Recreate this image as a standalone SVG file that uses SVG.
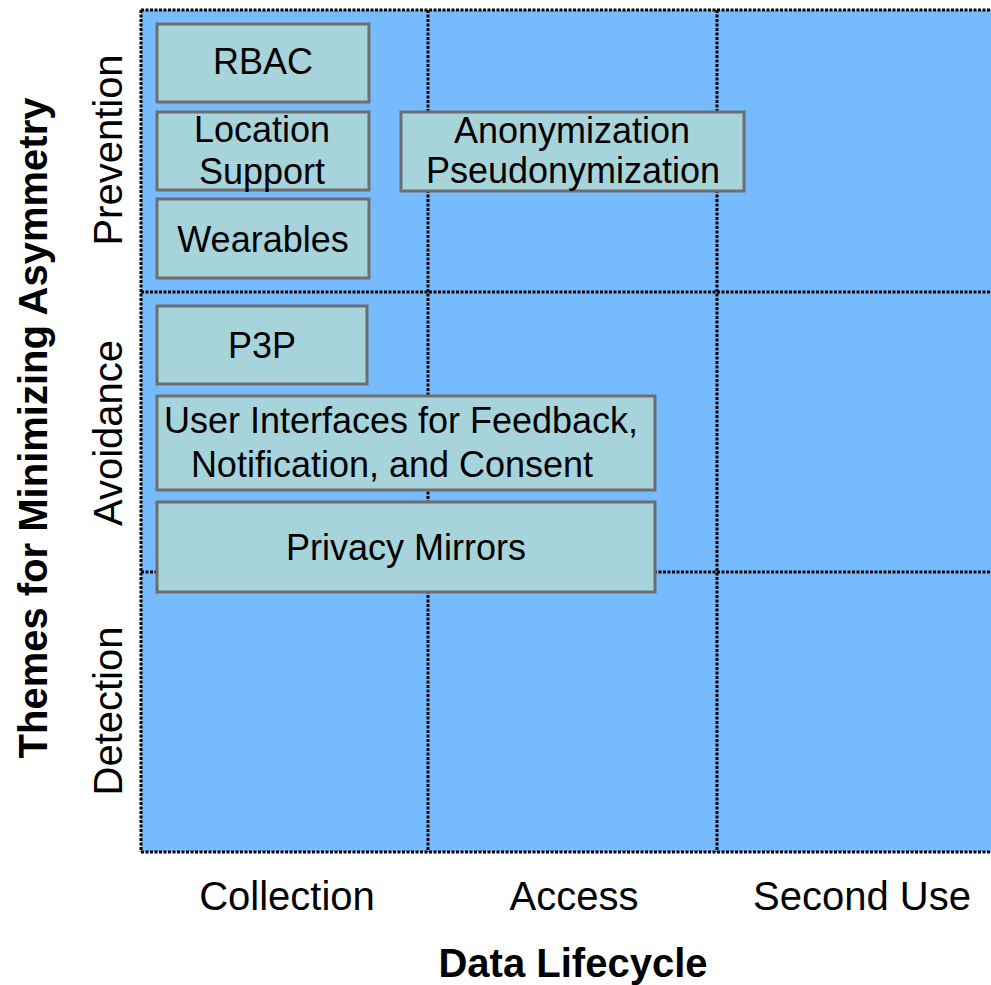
<svg xmlns="http://www.w3.org/2000/svg" width="991" height="985" viewBox="0 0 991 985">
<style>
.bg{fill:#77BBFF;}
.grid{stroke:#000;stroke-width:3;stroke-dasharray:3 1.5;fill:none;}
.box{fill:#A6D4DA;stroke:#6E6E6E;stroke-width:3;}
.t{font-family:"Liberation Sans",Arial,sans-serif;font-size:36px;fill:#000;text-anchor:middle;}
.ax{font-family:"Liberation Sans",Arial,sans-serif;font-size:40px;fill:#000;text-anchor:middle;}
.axb{font-family:"Liberation Sans",Arial,sans-serif;font-size:40px;font-weight:bold;fill:#000;text-anchor:middle;}
</style>
<rect x="0" y="0" width="991" height="985" fill="#FFFFFF"/>
<g id="grid">
<rect class="bg" x="141" y="10" width="860" height="842"/>
<g id="connectors">
<line class="grid" x1="141" y1="10" x2="991" y2="10"/>
<line class="grid" x1="141" y1="292" x2="991" y2="292"/>
<line class="grid" x1="141" y1="572" x2="991" y2="572"/>
<line class="grid" x1="141" y1="852" x2="991" y2="852"/>
<line class="grid" x1="141" y1="10" x2="141" y2="852"/>
<line class="grid" x1="428" y1="10" x2="428" y2="852"/>
<line class="grid" x1="717" y1="10" x2="717" y2="852"/>
</g>
</g>
<g id="rbac"><rect class="box" x="157" y="24" width="212" height="78"/><text class="t" x="263" y="74">RBAC</text></g>
<g id="location"><rect class="box" x="157" y="112" width="212" height="78"/><text class="t" x="262" y="142">Location</text><text class="t" x="262" y="184">Support</text></g>
<g id="wearables"><rect class="box" x="157" y="199" width="212" height="79"/><text class="t" x="263" y="252">Wearables</text></g>
<g id="anonymization"><rect class="box" x="401" y="112" width="343" height="79"/><text class="t" x="572" y="143">Anonymization</text><text class="t" x="573" y="183">Pseudonymization</text></g>
<g id="p3p"><rect class="box" x="157" y="306" width="210" height="78"/><text class="t" x="262" y="358">P3P</text></g>
<g id="ui"><rect class="box" x="157" y="396" width="498" height="94"/><text class="t" x="401" y="433">User Interfaces for Feedback,</text><text class="t" x="392" y="477">Notification, and Consent</text></g>
<g id="mirrors"><rect class="box" x="157" y="502" width="498" height="90"/><text class="t" x="406" y="560">Privacy Mirrors</text></g>
<g id="ylabels">
<text class="ax" transform="translate(122,150) rotate(-90)">Prevention</text>
<text class="ax" transform="translate(122,433) rotate(-90)">Avoidance</text>
<text class="ax" transform="translate(122,711) rotate(-90)">Detection</text>
<text class="axb" transform="translate(47,428) rotate(-90)">Themes for Minimizing Asymmetry</text>
</g>
<g id="xlabels">
<text class="ax" x="287" y="910">Collection</text>
<text class="ax" x="574" y="910">Access</text>
<text class="ax" x="862" y="910">Second Use</text>
<text class="axb" x="573" y="977">Data Lifecycle</text>
</g>
</svg>
